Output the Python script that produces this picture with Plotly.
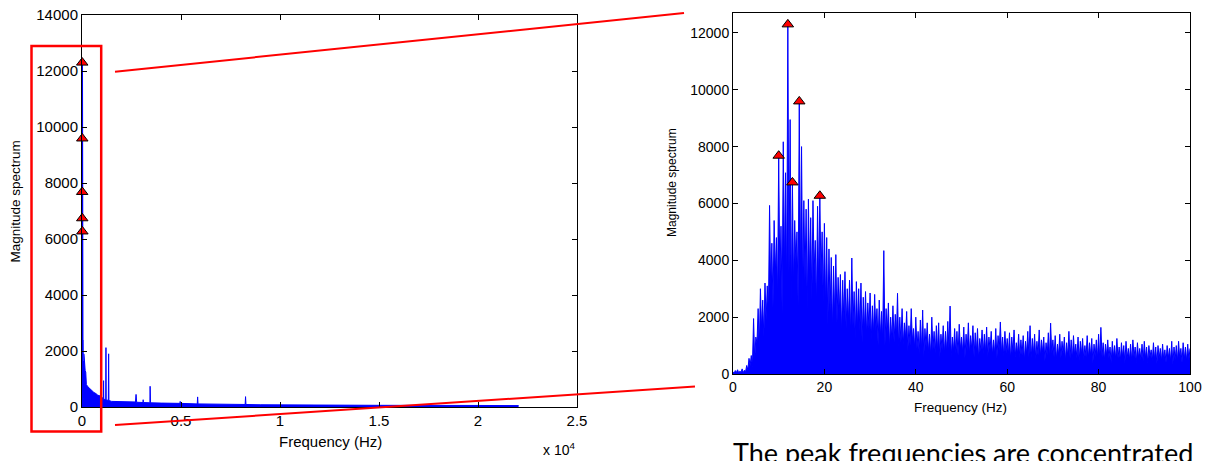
import plotly.graph_objects as go

W, H = 1209, 461

# ---------------- data ----------------
# Zoomed spectrum 0-100 Hz: local maxima every 0.5 Hz (0, 0.5, ..., 100)
zoom_step = 0.5
zoom_high = [
    80, 120, 150, 100, 180, 130, 300, 550, 650, 1950,
    1300, 2300, 3000, 2600, 3200, 3100, 5930, 4600, 5400, 4800,
    7680, 5200, 8170, 7080, 12300, 8950, 6740, 5400, 5000, 9590,
    8000, 6100, 5800, 6150, 5500, 6100, 4700, 5900, 6270, 5000,
    5300, 4800, 4400, 4100, 3800, 4200, 3400, 3500, 3300, 3600,
    3000, 3300, 4080, 2900, 3250, 3000, 3200, 2700, 2900, 2500,
    2850, 2400, 2800, 2300, 2600, 2200, 4340, 2300, 2500, 2000,
    2400, 2100, 2840, 2000, 2300, 1800, 2200, 1700, 2300, 1600,
    2000, 1500, 1900, 2250, 1600, 1800, 1400, 2000, 1500, 1700,
    1800, 1400, 1700, 1500, 1850, 2390, 1300, 1600, 1500, 1750,
    1300, 1650, 1400, 1800, 1350, 1700, 1450, 1600, 1250, 1550,
    1400, 1650, 1300, 1500, 1200, 1600, 1350, 1830, 1300, 1500,
    1250, 1450, 1300, 1550, 1100, 1400, 1200, 1350, 1150, 1500,
    1700, 1250, 1400, 1150, 1550, 1200, 1300, 1100, 1450, 1790,
    1200, 1350, 1050, 1400, 1150, 1300, 1100, 1500, 1200, 1350,
    1050, 1300, 1150, 1250, 1000, 1350, 1100, 1250, 1050, 1200,
    1400, 1640, 1100, 1050, 1200, 950, 1150, 1000, 1250, 950,
    1100, 1000, 1150, 900, 1050, 1200, 950, 1100, 900, 1050,
    1150, 950, 1000, 850, 1100, 950, 1000, 900, 1050, 850,
    1000, 900, 1150, 950, 1000, 1150, 900, 1100, 950, 1050,
    900,
]
# dense-body level between the maxima (0.25, 0.75, ..., 99.75 Hz)
zoom_low = [
    30, 50, 40, 60, 50, 80,
    150, 300, 250, 500,
    1100, 900, 1600, 1300, 1900, 2100,
    3000, 2300, 3500, 2700, 3300, 2100, 3700, 2900, 3500, 2500,
    3100, 3900, 2400, 3500, 2800, 3300, 2200, 3400, 2600, 3600,
    2300, 3100, 3400, 2500,
    2400, 1700, 2200, 1500, 2000, 1800, 2100, 1400, 1900, 1600,
    1800, 1300, 1700, 1200, 1600, 1500, 1100, 1500, 1300, 1600,
    1200, 1400, 1500, 1000, 1300, 1200, 1000, 1400, 900, 1200,
    1100, 1300, 900, 1100, 1000, 1250, 800, 1000, 1150, 900,
    900, 700, 850, 600, 950, 750, 650, 850, 700, 800,
    550, 850, 700, 750, 900, 600, 800, 700, 650, 850,
    750, 550, 800, 700, 850, 600, 750, 500, 800, 700,
    750, 600, 850, 650, 700, 550, 800, 700, 600, 750,
    650, 500, 750, 600, 700, 550, 650, 450, 700, 600,
    550, 700, 500, 650, 600, 750, 450, 650, 550, 700,
    600, 500, 650, 550, 700, 450, 600, 550, 500, 650,
    550, 450, 700, 500, 600, 550, 650, 400, 600, 550,
    500, 600, 450, 650, 550, 400, 600, 500, 550, 450,
    600, 400, 550, 500, 450, 600, 400, 550, 500, 450,
    550, 400, 600, 450, 500, 350, 550, 450, 500, 400,
    550, 450, 350, 500, 450, 550, 400, 500, 450, 500,
]

# detected peaks
peak_freq = [10.0, 12.0, 13.0, 14.5, 19.0]
peak_mag = [7680, 12300, 6740, 9590, 6270]

# full-band spectrum above 100 Hz (envelope)
hf_freq = [100, 130, 160, 190, 220, 300, 400, 500, 600, 700, 800, 900, 1000,
           1080, 1090, 1100, 1200, 1210, 1220, 1330, 1345, 1360, 1500, 2000,
           2700, 2730, 2760, 3080, 3090, 3100, 3430, 3440, 3460, 4000, 4950,
           4960, 4970, 5820, 5840, 5860, 7000, 8240, 8260, 8280, 9000, 11000,
           15000, 20000, 22050]
hf_mag = [1900, 1500, 1300, 1250, 800, 720, 650, 600, 520, 480, 420, 400, 330,
          300, 940, 280, 260, 2120, 250, 240, 1900, 230, 200, 190,
          180, 450, 170, 160, 260, 160, 150, 740, 150, 140, 130,
          200, 130, 110, 360, 110, 100, 90, 370, 90, 80, 70,
          60, 55, 50]

left_xtick_vals = [0, 5000, 10000, 15000, 20000, 25000]
left_xtick_text = ["0", "0.5", "1", "1.5", "2", "2.5"]
left_ytick_vals = [0, 2000, 4000, 6000, 8000, 10000, 12000, 14000]
right_xtick_vals = [0, 20, 40, 60, 80, 100]
right_ytick_vals = [0, 2000, 4000, 6000, 8000, 10000, 12000]

# ---------------- build ----------------
zx, zy = [], []
for i, h in enumerate(zoom_high):
    zx.append(i * zoom_step)
    zy.append(h)
    if i < len(zoom_low):
        zx.append(i * zoom_step + zoom_step / 2)
        zy.append(zoom_low[i])

BLUE = "#0000FF"
fig = go.Figure()

MARK = dict(symbol="triangle-up", size=10, color="#FF0000",
            line=dict(color="black", width=1))

# left panel
fig.add_trace(go.Scatter(x=hf_freq, y=hf_mag, mode="lines", fill="tozeroy",
                         fillcolor=BLUE, line=dict(color=BLUE, width=1),
                         xaxis="x", yaxis="y", hoverinfo="skip"))
fig.add_trace(go.Scatter(x=zx, y=zy, mode="lines", line=dict(color=BLUE, width=1.5),
                         fill="tozeroy", fillcolor=BLUE, xaxis="x", yaxis="y"))
fig.add_trace(go.Scatter(x=peak_freq, y=peak_mag, mode="markers", marker=MARK,
                         cliponaxis=False, xaxis="x", yaxis="y"))
# right panel
fig.add_trace(go.Scatter(x=zx, y=zy, mode="lines", line=dict(color=BLUE, width=1),
                         fill="tozeroy", fillcolor=BLUE, xaxis="x2", yaxis="y2"))
fig.add_trace(go.Scatter(x=peak_freq, y=peak_mag, mode="markers", marker=MARK,
                         cliponaxis=False, xaxis="x2", yaxis="y2"))

FONT = "Liberation Sans, Arial, Helvetica, sans-serif"


def ax(**kw):
    d = dict(showline=True, linecolor="black", linewidth=1, mirror="ticks",
             ticks="inside", ticklen=5, tickcolor="black", tickwidth=1,
             showgrid=False, zeroline=False, fixedrange=True, automargin=False)
    d.update(kw)
    return d


def px(x):
    return x / W


def py(y):
    return 1 - y / H


fig.update_layout(
    width=W, height=H, autosize=False, showlegend=False,
    margin=dict(l=0, r=0, t=0, b=0),
    paper_bgcolor="white", plot_bgcolor="white",
    xaxis=ax(domain=[px(82), px(577)], range=[0, 25000], tickvals=left_xtick_vals,
             ticktext=left_xtick_text, anchor="y",
             tickfont=dict(family=FONT, size=15, color="black")),
    yaxis=ax(domain=[py(407), py(15)], range=[0, 14000], tickvals=left_ytick_vals,
             tickformat="d", anchor="x",
             tickfont=dict(family=FONT, size=15, color="black")),
    xaxis2=ax(domain=[px(733), px(1190)], range=[0, 100], tickvals=right_xtick_vals,
              anchor="y2", tickfont=dict(family=FONT, size=14, color="black")),
    yaxis2=ax(domain=[py(374), py(13)], range=[0, 12700], tickvals=right_ytick_vals,
              tickformat="d", anchor="x2",
              tickfont=dict(family=FONT, size=14, color="black")),
)

ann = [
    dict(text="Magnitude spectrum", x=px(15), y=py(201.5), textangle=-90,
         font=dict(family=FONT, size=13.5, color="black")),
    dict(text="Frequency (Hz)", x=px(330), y=py(441),
         font=dict(family=FONT, size=15, color="black")),
    dict(text="x 10<sup>4</sup>", x=px(541), y=py(449), xanchor="left",
         font=dict(family=FONT, size=14, color="black")),
    dict(text="Magnitude spectrum", x=px(672), y=py(183), textangle=-90,
         font=dict(family=FONT, size=12, color="black")),
    dict(text="Frequency (Hz)", x=px(961), y=py(407),
         font=dict(family=FONT, size=13.5, color="black")),
    dict(text="The peak frequencies are concentrated", x=px(731), y=py(452),
         xanchor="left", font=dict(family="Lato, Open Sans, sans-serif", size=27, color="black")),
]
for a in ann:
    a.update(xref="paper", yref="paper", showarrow=False)
    a.setdefault("xanchor", "center")
    a.setdefault("yanchor", "middle")
fig.update_layout(annotations=ann)

RED = "#FF0000"
fig.update_layout(shapes=[
    dict(type="rect", xref="paper", yref="paper", x0=px(31.5), x1=px(101.2),
         y0=py(431.5), y1=py(46), line=dict(color=RED, width=2.5)),
    dict(type="line", xref="paper", yref="paper", x0=px(115), y0=py(71.7),
         x1=px(684), y1=py(13), line=dict(color=RED, width=2)),
    dict(type="line", xref="paper", yref="paper", x0=px(115), y0=py(425),
         x1=px(695), y1=py(386.5), line=dict(color=RED, width=2)),
])

fig.write_html("out.html", config={"displayModeBar": False, "staticPlot": True},
               post_script="document.body.style.margin='0px';"
                           "document.body.style.overflow='hidden';")
